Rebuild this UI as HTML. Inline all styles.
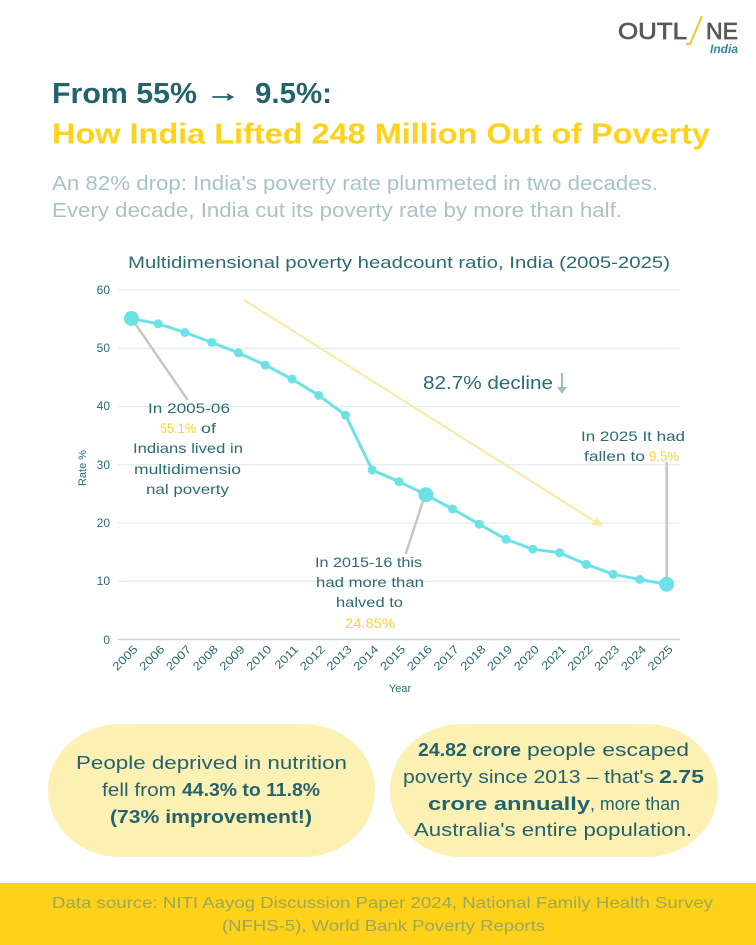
<!DOCTYPE html>
<html>
<head>
<meta charset="utf-8">
<style>
html,body{margin:0;padding:0;background:#fff;}
svg{display:block;}
text{font-family:"Liberation Sans",sans-serif;}
</style>
</head>
<body>
<svg width="756" height="945" viewBox="0 0 756 945" xmlns="http://www.w3.org/2000/svg">
<rect x="0" y="0" width="756" height="945" fill="#ffffff"/>

<!-- Logo -->
<text x="618" y="39" font-size="23" fill="#58595b" stroke="#58595b" stroke-width="0.7" textLength="69" lengthAdjust="spacingAndGlyphs">OUTL</text>
<line x1="702" y1="16" x2="690" y2="44" stroke="#f4c430" stroke-width="2"/>
<line x1="686" y1="44" x2="691" y2="44" stroke="#f4c430" stroke-width="2"/>
<text x="706" y="39" font-size="23" fill="#58595b" stroke="#58595b" stroke-width="0.7" textLength="32" lengthAdjust="spacingAndGlyphs">NE</text>
<text x="710" y="53" font-size="12" font-family="Liberation Serif, serif" font-style="italic" font-weight="bold" fill="#2a8d98" textLength="28" lengthAdjust="spacingAndGlyphs">India</text>

<!-- Titles -->
<text x="52" y="103" font-size="29" font-weight="bold" fill="#23636e" textLength="145" lengthAdjust="spacingAndGlyphs">From 55%</text>
<text x="206" y="101" font-size="24" font-weight="bold" fill="#23636e" stroke="#23636e" stroke-width="0.8" textLength="34" lengthAdjust="spacingAndGlyphs">→</text>
<text x="255" y="103" font-size="29" font-weight="bold" fill="#23636e" textLength="77" lengthAdjust="spacingAndGlyphs">9.5%:</text>
<text x="52" y="143.5" font-size="29" font-weight="bold" fill="#fdd21c" textLength="658" lengthAdjust="spacingAndGlyphs">How India Lifted 248 Million Out of Poverty</text>

<text x="52" y="190" font-size="20" fill="#a8c3c5" textLength="606" lengthAdjust="spacingAndGlyphs">An 82% drop: India's poverty rate plummeted in two decades.</text>
<text x="52" y="217" font-size="20" fill="#a8c3c5" textLength="570" lengthAdjust="spacingAndGlyphs">Every decade, India cut its poverty rate by more than half.</text>

<!-- Chart title -->
<text x="128" y="268" font-size="17" fill="#2b6b74" textLength="542" lengthAdjust="spacingAndGlyphs">Multidimensional poverty headcount ratio, India (2005-2025)</text>

<!-- Grid -->
<g stroke="#e2eded" stroke-width="1.2">
<line x1="118" y1="290" x2="680" y2="290"/>
<line x1="118" y1="348.25" x2="680" y2="348.25"/>
<line x1="118" y1="406.5" x2="680" y2="406.5"/>
<line x1="118" y1="464.75" x2="680" y2="464.75"/>
<line x1="118" y1="523" x2="680" y2="523"/>
<line x1="118" y1="581.25" x2="680" y2="581.25"/>
</g>
<line x1="118" y1="639.5" x2="680" y2="639.5" stroke="#c8d6d8" stroke-width="1.5"/>

<!-- Y labels -->
<g font-size="12" fill="#2b6b74" text-anchor="end">
<text x="110" y="294">60</text>
<text x="110" y="352">50</text>
<text x="110" y="410">40</text>
<text x="110" y="469">30</text>
<text x="110" y="527">20</text>
<text x="110" y="585">10</text>
<text x="110" y="644">0</text>
</g>
<text x="0" y="0" font-size="11" fill="#2b6b74" text-anchor="middle" transform="translate(86,468) rotate(-90)">Rate %</text>
<text x="400" y="692" font-size="11" fill="#2b6b74" text-anchor="middle">Year</text>

<!-- X labels -->
<g font-size="11.5" fill="#2b6b74" text-anchor="end">
<text transform="translate(138.4,650) rotate(-45)" textLength="30" lengthAdjust="spacingAndGlyphs">2005</text>
<text transform="translate(165.2,650) rotate(-45)" textLength="30" lengthAdjust="spacingAndGlyphs">2006</text>
<text transform="translate(191.9,650) rotate(-45)" textLength="30" lengthAdjust="spacingAndGlyphs">2007</text>
<text transform="translate(218.7,650) rotate(-45)" textLength="30" lengthAdjust="spacingAndGlyphs">2008</text>
<text transform="translate(245.4,650) rotate(-45)" textLength="30" lengthAdjust="spacingAndGlyphs">2009</text>
<text transform="translate(272.2,650) rotate(-45)" textLength="30" lengthAdjust="spacingAndGlyphs">2010</text>
<text transform="translate(299.0,650) rotate(-45)" textLength="28" lengthAdjust="spacingAndGlyphs">2011</text>
<text transform="translate(325.7,650) rotate(-45)" textLength="30" lengthAdjust="spacingAndGlyphs">2012</text>
<text transform="translate(352.5,650) rotate(-45)" textLength="30" lengthAdjust="spacingAndGlyphs">2013</text>
<text transform="translate(379.2,650) rotate(-45)" textLength="30" lengthAdjust="spacingAndGlyphs">2014</text>
<text transform="translate(406.0,650) rotate(-45)" textLength="30" lengthAdjust="spacingAndGlyphs">2015</text>
<text transform="translate(432.8,650) rotate(-45)" textLength="30" lengthAdjust="spacingAndGlyphs">2016</text>
<text transform="translate(459.5,650) rotate(-45)" textLength="30" lengthAdjust="spacingAndGlyphs">2017</text>
<text transform="translate(486.3,650) rotate(-45)" textLength="30" lengthAdjust="spacingAndGlyphs">2018</text>
<text transform="translate(513.0,650) rotate(-45)" textLength="30" lengthAdjust="spacingAndGlyphs">2019</text>
<text transform="translate(539.8,650) rotate(-45)" textLength="30" lengthAdjust="spacingAndGlyphs">2020</text>
<text transform="translate(566.6,650) rotate(-45)" textLength="29" lengthAdjust="spacingAndGlyphs">2021</text>
<text transform="translate(593.3,650) rotate(-45)" textLength="30" lengthAdjust="spacingAndGlyphs">2022</text>
<text transform="translate(620.1,650) rotate(-45)" textLength="30" lengthAdjust="spacingAndGlyphs">2023</text>
<text transform="translate(646.8,650) rotate(-45)" textLength="30" lengthAdjust="spacingAndGlyphs">2024</text>
<text transform="translate(673.6,650) rotate(-45)" textLength="30" lengthAdjust="spacingAndGlyphs">2025</text>
</g>

<!-- Yellow trend arrow -->
<line x1="244" y1="300" x2="595" y2="521.5" stroke="#fbe9a0" stroke-width="2"/>
<polygon points="603,526 591.6,525.4 597,516.9" fill="#fbe9a0"/>

<!-- Connectors -->
<g stroke="#c6c6c6" stroke-width="2.5" stroke-linecap="round">
<line x1="134" y1="322" x2="187" y2="399"/>
<line x1="424" y1="498" x2="406" y2="553"/>
<line x1="666.6" y1="463" x2="666.6" y2="584"/>
</g>

<!-- Series -->
<polyline fill="none" stroke="#6de2e6" stroke-width="3" stroke-linejoin="round" points="131.4,318.5 158.2,323.8 184.9,332.5 211.7,342.4 238.4,352.9 265.2,365.1 292.0,379.1 318.7,395.4 345.5,415.2 372.2,470.0 399.0,481.6 425.8,494.7 452.5,509.0 479.3,524.2 506.0,539.3 532.8,549.2 559.6,552.7 586.3,564.4 613.1,574.3 639.8,579.5 666.6,584.2"/>
<g fill="#6de2e6">
<circle cx="131.4" cy="318.5" r="7.5"/>
<circle cx="158.2" cy="323.8" r="4.5"/>
<circle cx="184.9" cy="332.5" r="4.5"/>
<circle cx="211.7" cy="342.4" r="4.5"/>
<circle cx="238.4" cy="352.9" r="4.5"/>
<circle cx="265.2" cy="365.1" r="4.5"/>
<circle cx="292.0" cy="379.1" r="4.5"/>
<circle cx="318.7" cy="395.4" r="4.5"/>
<circle cx="345.5" cy="415.2" r="4.5"/>
<circle cx="372.2" cy="470.0" r="4.5"/>
<circle cx="399.0" cy="481.6" r="4.5"/>
<circle cx="425.8" cy="494.7" r="7.5"/>
<circle cx="452.5" cy="509.0" r="4.5"/>
<circle cx="479.3" cy="524.2" r="4.5"/>
<circle cx="506.0" cy="539.3" r="4.5"/>
<circle cx="532.8" cy="549.2" r="4.5"/>
<circle cx="559.6" cy="552.7" r="4.5"/>
<circle cx="586.3" cy="564.4" r="4.5"/>
<circle cx="613.1" cy="574.3" r="4.5"/>
<circle cx="639.8" cy="579.5" r="4.5"/>
<circle cx="666.6" cy="584.2" r="7.5"/>
</g>

<!-- Annotations -->
<g font-size="14" fill="#2b6b74">
<text x="148" y="413" textLength="82" lengthAdjust="spacingAndGlyphs">In 2005-06</text>
<text x="160" y="433" fill="#f9d23a" textLength="36" lengthAdjust="spacingAndGlyphs">55.1%</text>
<text x="201" y="433" textLength="15" lengthAdjust="spacingAndGlyphs">of</text>
<text x="133" y="453" textLength="110" lengthAdjust="spacingAndGlyphs">Indians lived in</text>
<text x="134" y="474" textLength="107" lengthAdjust="spacingAndGlyphs">multidimensio</text>
<text x="146" y="494" textLength="83" lengthAdjust="spacingAndGlyphs">nal poverty</text>

<text x="315" y="567" textLength="107" lengthAdjust="spacingAndGlyphs">In 2015-16 this</text>
<text x="316" y="587" textLength="108" lengthAdjust="spacingAndGlyphs">had more than</text>
<text x="336" y="607" textLength="67" lengthAdjust="spacingAndGlyphs">halved to</text>
<text x="345" y="628" fill="#f9d23a" textLength="50" lengthAdjust="spacingAndGlyphs">24.85%</text>

<text x="581" y="441" textLength="104" lengthAdjust="spacingAndGlyphs">In 2025  It had</text>
<text x="584" y="461" textLength="61" lengthAdjust="spacingAndGlyphs">fallen to</text>
<text x="649" y="461" fill="#f9d23a" textLength="30" lengthAdjust="spacingAndGlyphs">9.5%</text>
</g>
<text x="423" y="389" font-size="18" fill="#2b6b74" textLength="130" lengthAdjust="spacingAndGlyphs">82.7% decline</text>
<line x1="562" y1="373" x2="562" y2="388" stroke="#9fbfc3" stroke-width="2"/>
<polygon points="557,387 567,387 562,394" fill="#9fbfc3"/>

<!-- Boxes -->
<rect x="48" y="724" width="327" height="133" rx="72" ry="66" fill="#fdf0b3"/>
<rect x="390" y="724" width="328" height="133" rx="72" ry="66" fill="#fdf0b3"/>

<g font-size="18" fill="#23636e">
<text x="76" y="769" textLength="271" lengthAdjust="spacingAndGlyphs">People deprived in nutrition</text>
<text x="102" y="796" textLength="74" lengthAdjust="spacingAndGlyphs">fell from</text>
<text x="182" y="796" font-weight="bold" textLength="138" lengthAdjust="spacingAndGlyphs">44.3% to 11.8%</text>
<text x="110" y="823" font-weight="bold" textLength="202" lengthAdjust="spacingAndGlyphs">(73% improvement!)</text>

<text x="418" y="756" font-weight="bold" textLength="103" lengthAdjust="spacingAndGlyphs">24.82 crore</text>
<text x="527" y="756" textLength="162" lengthAdjust="spacingAndGlyphs">people escaped</text>
<text x="403" y="783" textLength="251" lengthAdjust="spacingAndGlyphs">poverty since 2013 – that's</text>
<text x="659" y="783" font-weight="bold" textLength="45" lengthAdjust="spacingAndGlyphs">2.75</text>
<text x="428" y="810" font-weight="bold" textLength="162" lengthAdjust="spacingAndGlyphs">crore annually</text>
<text x="590" y="810" textLength="90" lengthAdjust="spacingAndGlyphs">, more than</text>
<text x="414" y="836" textLength="278" lengthAdjust="spacingAndGlyphs">Australia's entire population.</text>
</g>

<!-- Footer -->
<rect x="0" y="883" width="756" height="62" fill="#fdd219"/>
<text x="52" y="908" font-size="16" fill="#9ca65c" textLength="661" lengthAdjust="spacingAndGlyphs">Data source: NITI Aayog Discussion Paper 2024, National Family Health Survey</text>
<text x="222" y="931" font-size="16" fill="#9ca65c" textLength="323" lengthAdjust="spacingAndGlyphs">(NFHS-5), World Bank Poverty Reports</text>
</svg>
</body>
</html>
